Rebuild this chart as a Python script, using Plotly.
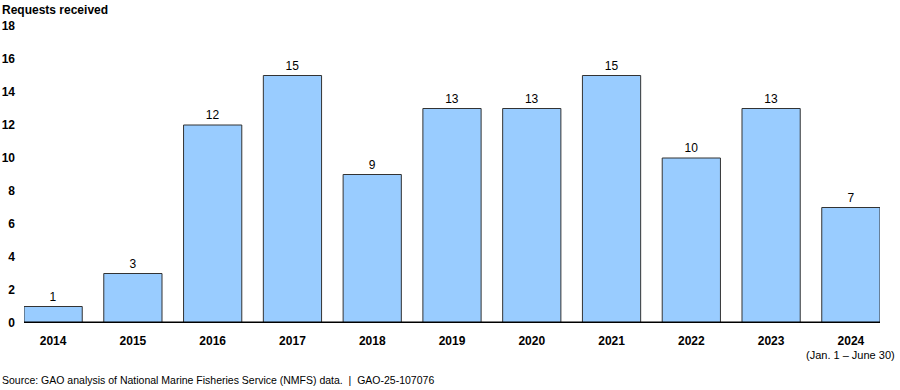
import plotly.graph_objects as go

years = ["2014", "2015", "2016", "2017", "2018", "2019", "2020", "2021", "2022", "2023", "2024"]
requests = [1, 3, 12, 15, 9, 13, 13, 15, 10, 13, 7]
y_ticks = [0, 2, 4, 6, 8, 10, 12, 14, 16, 18]

FONT = "Liberation Sans, Arial, sans-serif"

W, H = 900, 390
ML, MR, MT, MB = 24, 20, 26, 67
PW, PH = W - ML - MR, H - MT - MB


def px(xpix):
    return (xpix - ML) / PW


def py(ypix):
    return 1 - (ypix - MT) / PH


fig = go.Figure()
fig.add_trace(go.Bar(
    x=list(range(len(years))),
    y=requests,
    width=0.73,
    marker=dict(color="#99CCFF", line=dict(color="#333333", width=1)),
    text=[str(v) for v in requests],
    textposition="outside",
    textfont=dict(family=FONT, size=12, color="#000000"),
    cliponaxis=False,
))

fig.update_layout(
    width=W, height=H,
    margin=dict(l=ML, r=MR, t=MT, b=MB, autoexpand=False),
    plot_bgcolor="white", paper_bgcolor="white",
    showlegend=False,
    font=dict(family=FONT, color="#000000"),
    xaxis=dict(
        range=[-0.365, 10.365],
        tickmode="array",
        tickvals=list(range(len(years))),
        ticktext=[f"<b>{y}</b>" for y in years],
        tickfont=dict(family=FONT, size=12, color="#000000"),
        showgrid=False, zeroline=False, showline=False,
        ticks="", ticklabelstandoff=9, automargin=False,
    ),
    yaxis=dict(
        range=[0, 18],
        tickmode="array",
        tickvals=y_ticks,
        ticktext=[f"<b>{t}</b>" for t in y_ticks],
        tickfont=dict(family=FONT, size=12, color="#000000"),
        showgrid=False, zeroline=False, showline=False,
        ticks="", ticklabelstandoff=8, automargin=False,
    ),
    annotations=[
        dict(text="<b>Requests received</b>", x=px(0), y=py(1), xref="paper", yref="paper",
             xanchor="left", yanchor="top", showarrow=False,
             font=dict(family=FONT, size=12, color="#000000")),
        dict(text="(Jan. 1 – June 30)", x=px(897), y=py(347), xref="paper", yref="paper",
             xanchor="right", yanchor="top", showarrow=False,
             font=dict(family=FONT, size=11, color="#000000")),
        dict(text="Source: GAO analysis of National Marine Fisheries Service (NMFS) data.  |  GAO-25-107076",
             x=px(0), y=py(388), xref="paper", yref="paper", xanchor="left", yanchor="bottom",
             showarrow=False, font=dict(family=FONT, size=10.5, color="#000000")),
    ],
    shapes=[
        dict(type="line", xref="x", yref="y", x0=-0.365, x1=10.365, y0=0, y1=0,
             line=dict(color="#000000", width=3)),
    ],
)

fig.write_html("out.html",
               config={"displayModeBar": False},
               post_script="document.body.style.margin='0';document.body.style.padding='0';")
